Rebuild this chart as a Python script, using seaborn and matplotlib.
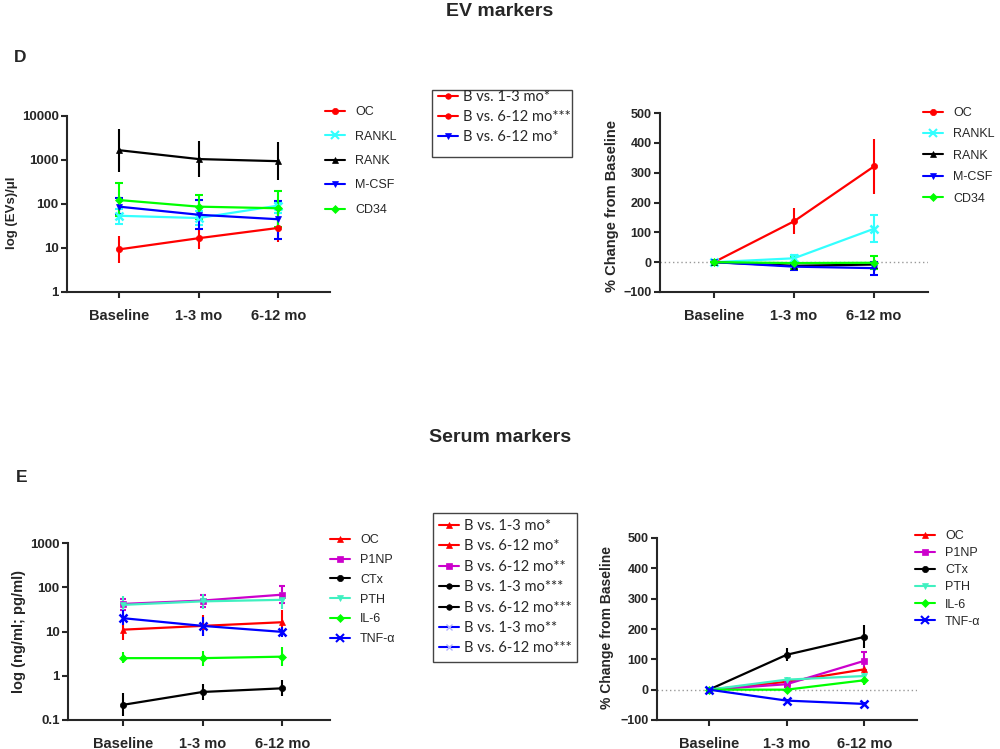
import numpy as np
import pandas as pd
import matplotlib
matplotlib.use("Agg")
import matplotlib.pyplot as plt
import seaborn as sns
from matplotlib.lines import Line2D
from matplotlib.patches import Rectangle
from matplotlib.ticker import FixedLocator, FixedFormatter, NullLocator

# ---------------- data ----------------
timepoints = ["Baseline", "1-3 mo", "6-12 mo"]

# Panel D, left: EVs/ul (mean, lower and upper error-bar ends)
ev_names = ["OC", "RANKL", "RANK", "M-CSF", "CD34"]
d_oc = [9.3, 16.7, 28.6]
d_oc_lo = [4.6, 9.5, 13.5]
d_oc_hi = [18.5, 28, 60]
d_rankl = [54, 48, 92]
d_rankl_lo = [36, 33, 62]
d_rankl_hi = [75, 70, 105]
d_rank = [1670, 1050, 940]
d_rank_lo = [540, 415, 350]
d_rank_hi = [5150, 2700, 2600]
d_mcsf = [87, 57, 45]
d_mcsf_lo = [59, 27, 16]
d_mcsf_hi = [134, 125, 118]
d_cd34 = [123, 87, 80]
d_cd34_lo = [54, 45, 30]
d_cd34_hi = [295, 163, 200]

# Panel D, right: % change from baseline (mean, +/- error)
dp_oc = [0, 137, 321]
dp_oc_err = [0, 43, 93]
dp_rankl = [0, 13, 112]
dp_rankl_err = [0, 12, 46]
dp_rank = [0, -12, -8]
dp_rank_err = [0, 8, 10]
dp_mcsf = [0, -15, -20]
dp_mcsf_err = [0, 10, 22]
dp_cd34 = [0, -3, -2]
dp_cd34_err = [0, 20, 22]

# Panel E, left: serum levels
serum_names = ["OC", "P1NP", "CTx", "PTH", "IL-6", "TNF-α"]
e_oc = [11, 13.4, 16.2]
e_oc_lo = [6.4, 8, 9]
e_oc_hi = [16, 24, 30]
e_p1np = [42, 50, 68]
e_p1np_lo = [30, 35, 45]
e_p1np_hi = [55, 68, 105]
e_ctx = [0.22, 0.43, 0.52]
e_ctx_lo = [0.12, 0.29, 0.35]
e_ctx_hi = [0.40, 0.64, 0.80]
e_pth = [40, 48, 52]
e_pth_lo = [25, 32, 33]
e_pth_hi = [65, 71, 79]
e_il6 = [2.5, 2.5, 2.7]
e_il6_lo = [1.9, 1.7, 1.7]
e_il6_hi = [3.5, 3.6, 4.5]
e_tnf = [20, 13.4, 9.8]
e_tnf_lo = [14, 7.8, 7.6]
e_tnf_hi = [30, 21, 12.7]

# Panel E, right: % change from baseline
ep_oc = [0, 26, 67]
ep_oc_err = [0, 8, 12]
ep_p1np = [0, 18, 95]
ep_p1np_err = [0, 8, 30]
ep_ctx = [0, 115, 174]
ep_ctx_err = [0, 22, 38]
ep_pth = [0, 33, 45]
ep_pth_err = [0, 8, 10]
ep_il6 = [0, 0, 31]
ep_il6_err = [0, 5, 15]
ep_tnf = [0, -36, -47]
ep_tnf_err = [0, 4, 5]

# significance legend labels
ev_sig_labels = ["B vs. 1-3 mo*", "B vs. 6-12 mo***", "B vs. 6-12 mo*"]
serum_sig_labels = ["B vs. 1-3 mo*", "B vs. 6-12 mo*", "B vs. 6-12 mo**",
                    "B vs. 1-3 mo***", "B vs. 6-12 mo***", "B vs. 1-3 mo**",
                    "B vs. 6-12 mo***"]

# ---------------- styles ----------------
RED, CYAN, BLACK, BLUE, GREEN = "#FF0000", "#33FFFF", "#000000", "#0000FF", "#00FF00"
MAG, AQUA = "#CC00CC", "#40F0C0"
ev_colors = [RED, CYAN, BLACK, BLUE, GREEN]
ev_markers = ["o", "x", "^", "v", "D"]
ev_caps = [0, 3, 0, 3, 3]
serum_colors = [RED, MAG, BLACK, AQUA, GREEN, BLUE]
serum_markers = ["^", "s", "o", "v", "D", "x"]
serum_caps = [0, 2, 0, 0, 0, 0]

sns.set_style("ticks")
plt.rcParams["font.family"] = ["Liberation Sans", "DejaVu Sans"]
plt.rcParams["axes.linewidth"] = 1.5

W, H = 1000, 749
fig = plt.figure(figsize=(W / 100, H / 100), dpi=100)


def fx(x):
    return x / W


def fy(y):
    return 1 - y / H


def make_ax(x0, y0, x1, y1):
    return fig.add_axes([fx(x0), fy(y1), fx(x1) - fx(x0), fy(y0) - fy(y1)])


xs = np.arange(len(timepoints))


def draw_series(ax, means, los, his, colors, markers, caps, names):
    rows = []
    for n, m in zip(names, means):
        for t, v in zip(xs, m):
            rows.append({"marker": n, "t": t, "value": v})
    df = pd.DataFrame(rows)
    for n, m, lo, hi, c, mk, cap in zip(names, means, los, his, colors, markers, caps):
        m = np.asarray(m, float)
        lo = np.asarray(lo, float)
        hi = np.asarray(hi, float)
        ax.errorbar(xs, m, yerr=[m - lo, hi - m], fmt="none", ecolor=c,
                    elinewidth=1.5, capsize=cap, capthick=1.5, zorder=2)
        sub = df[df["marker"] == n]
        sns.lineplot(data=sub, x="t", y="value", color=c, marker=mk,
                     markersize=6 if mk == "x" else 4.5,
                     markeredgewidth=1.8 if mk == "x" else 0.5,
                     markeredgecolor=c, linewidth=1.6, ax=ax, zorder=3,
                     legend=False)


def style_ax(ax, xlim, ysize):
    sns.despine(ax=ax)
    ax.set_xlim(*xlim)
    ax.set_xticks(xs)
    ax.set_xticklabels(timepoints, fontsize=10.5, fontweight="bold")
    ax.tick_params(axis="both", width=1.5, length=4, direction="out", pad=2)
    ax.tick_params(axis="x", pad=8)
    ax.tick_params(axis="y", labelsize=ysize)
    for lab in ax.get_yticklabels():
        lab.set_fontweight("bold")
    ax.set_xlabel("")


def log_axis(ax, ticks, labels):
    ax.set_yscale("log")
    ax.set_ylim(ticks[0], ticks[-1])
    ax.yaxis.set_major_locator(FixedLocator(ticks))
    ax.yaxis.set_major_formatter(FixedFormatter(labels))
    ax.yaxis.set_minor_locator(NullLocator())


def pct_axis(ax, size):
    ax.set_ylim(-100, 500)
    ax.set_yticks([-100, 0, 100, 200, 300, 400, 500])
    ax.axhline(0, color="#999999", linestyle=(0, (1, 2)), linewidth=1, zorder=1)
    ax.set_ylabel("% Change from Baseline", fontsize=size, fontweight="bold")


def side_legend(x, y, names, colors, markers, spacing):
    handles = [Line2D([0], [0], color=c, marker=m, markersize=4.5 if m != "x" else 6,
                      markeredgewidth=1.5 if m == "x" else 0.5, linewidth=1.5)
               for c, m in zip(colors, markers)]
    fig.legend(handles, names, loc="upper left", bbox_to_anchor=(fx(x), fy(y)),
               frameon=False, fontsize=9, handlelength=1.6, handletextpad=0.8,
               labelspacing=spacing, borderpad=0, borderaxespad=0)


def sig_box(x0, y0, x1, y1, dy, labels, colors, markers, mcolors, spacing):
    fig.add_artist(Rectangle((fx(x0), fy(y1)), fx(x1) - fx(x0), fy(y0) - fy(y1),
                             transform=fig.transFigure, fill=False,
                             edgecolor="#444444", linewidth=1))
    handles = [Line2D([0], [0], color=c, marker=m, markersize=4 if m != "x" else 5,
                      markerfacecolor=mc, markeredgecolor=mc,
                      markeredgewidth=1 if m == "x" else 0.5, linewidth=1.5)
               for c, m, mc in zip(colors, markers, mcolors)]
    fig.legend(handles, labels, loc="upper left",
               bbox_to_anchor=(fx(x0 + 6), fy(y0 + dy)),
               frameon=False, prop={"family": ["Lato", "DejaVu Sans"], "size": 10.5},
               handlelength=1.4, handletextpad=0.3, labelspacing=spacing,
               borderpad=0, borderaxespad=0)


# ---------------- Panel D ----------------
fig.text(0.5, fy(12), "EV markers", ha="center", va="center", fontsize=14, fontweight="bold")
fig.text(fx(20), fy(57), "D", ha="center", va="center", fontsize=12.5, fontweight="bold")

ax1 = make_ax(67, 116, 330, 292)
draw_series(ax1, [d_oc, d_rankl, d_rank, d_mcsf, d_cd34],
            [d_oc_lo, d_rankl_lo, d_rank_lo, d_mcsf_lo, d_cd34_lo],
            [d_oc_hi, d_rankl_hi, d_rank_hi, d_mcsf_hi, d_cd34_hi],
            ev_colors, ev_markers, ev_caps, ev_names)
log_axis(ax1, [1, 10, 100, 1000, 10000], ["1", "10", "100", "1000", "10000"])
ax1.set_ylabel("log (EVs)/μl", fontsize=9.5, fontweight="bold")
ax1.yaxis.set_label_coords(-0.186, 0.45)
style_ax(ax1, (-0.654, 2.65), 9.5)

ax2 = make_ax(660, 113, 928, 292)
draw_series(ax2, [dp_oc, dp_rankl, dp_rank, dp_mcsf, dp_cd34],
            [np.subtract(dp_oc, dp_oc_err), np.subtract(dp_rankl, dp_rankl_err),
             np.subtract(dp_rank, dp_rank_err), np.subtract(dp_mcsf, dp_mcsf_err),
             np.subtract(dp_cd34, dp_cd34_err)],
            [np.add(dp_oc, dp_oc_err), np.add(dp_rankl, dp_rankl_err),
             np.add(dp_rank, dp_rank_err), np.add(dp_mcsf, dp_mcsf_err),
             np.add(dp_cd34, dp_cd34_err)],
            ev_colors, ev_markers, ev_caps, ev_names)
pct_axis(ax2, 10.5)
ax2.yaxis.set_label_coords(-0.153, 0.48)
style_ax(ax2, (-0.675, 2.675), 9)

side_legend(325, 106, ev_names, ev_colors, ev_markers, 1.0)
side_legend(923, 107, ev_names, ev_colors, ev_markers, 0.75)
sig_box(432, 90, 572, 157, 0, ev_sig_labels, [RED, RED, BLUE], ["o", "o", "v"],
        [RED, RED, BLUE], 0.4)

# ---------------- Panel E ----------------
fig.text(0.5, fy(437), "Serum markers", ha="center", va="center", fontsize=14, fontweight="bold")
fig.text(fx(22), fy(478), "E", ha="center", va="center", fontsize=12.5, fontweight="bold")

ax3 = make_ax(68, 543, 330, 720)
draw_series(ax3, [e_oc, e_p1np, e_ctx, e_pth, e_il6, e_tnf],
            [e_oc_lo, e_p1np_lo, e_ctx_lo, e_pth_lo, e_il6_lo, e_tnf_lo],
            [e_oc_hi, e_p1np_hi, e_ctx_hi, e_pth_hi, e_il6_hi, e_tnf_hi],
            serum_colors, serum_markers, serum_caps, serum_names)
log_axis(ax3, [0.1, 1, 10, 100, 1000], ["0.1", "1", "10", "100", "1000"])
ax3.set_ylabel("log (ng/ml; pg/ml)", fontsize=10.5, fontweight="bold")
ax3.yaxis.set_label_coords(-0.160, 0.5)
style_ax(ax3, (-0.69, 2.6), 9.5)

ax4 = make_ax(657, 538, 917, 720)
draw_series(ax4, [ep_oc, ep_p1np, ep_ctx, ep_pth, ep_il6, ep_tnf],
            [np.subtract(ep_oc, ep_oc_err), np.subtract(ep_p1np, ep_p1np_err),
             np.subtract(ep_ctx, ep_ctx_err), np.subtract(ep_pth, ep_pth_err),
             np.subtract(ep_il6, ep_il6_err), np.subtract(ep_tnf, ep_tnf_err)],
            [np.add(ep_oc, ep_oc_err), np.add(ep_p1np, ep_p1np_err),
             np.add(ep_ctx, ep_ctx_err), np.add(ep_pth, ep_pth_err),
             np.add(ep_il6, ep_il6_err), np.add(ep_tnf, ep_tnf_err)],
            serum_colors, serum_markers, serum_caps, serum_names)
pct_axis(ax4, 10)
ax4.yaxis.set_label_coords(-0.165, 0.51)
style_ax(ax4, (-0.67, 2.68), 9)

side_legend(330, 534, serum_names, serum_colors, serum_markers, 0.63)
side_legend(915, 530, serum_names, serum_colors, serum_markers, 0.41)
sig_box(433, 513, 577, 662, 6, serum_sig_labels,
        [RED, RED, MAG, BLACK, BLACK, BLUE, BLUE],
        ["^", "^", "s", "o", "o", "x", "x"],
        [RED, RED, MAG, BLACK, BLACK, "#B0B0FF", "#B0B0FF"], 0.44)

fig.savefig("out.png", dpi=100)
